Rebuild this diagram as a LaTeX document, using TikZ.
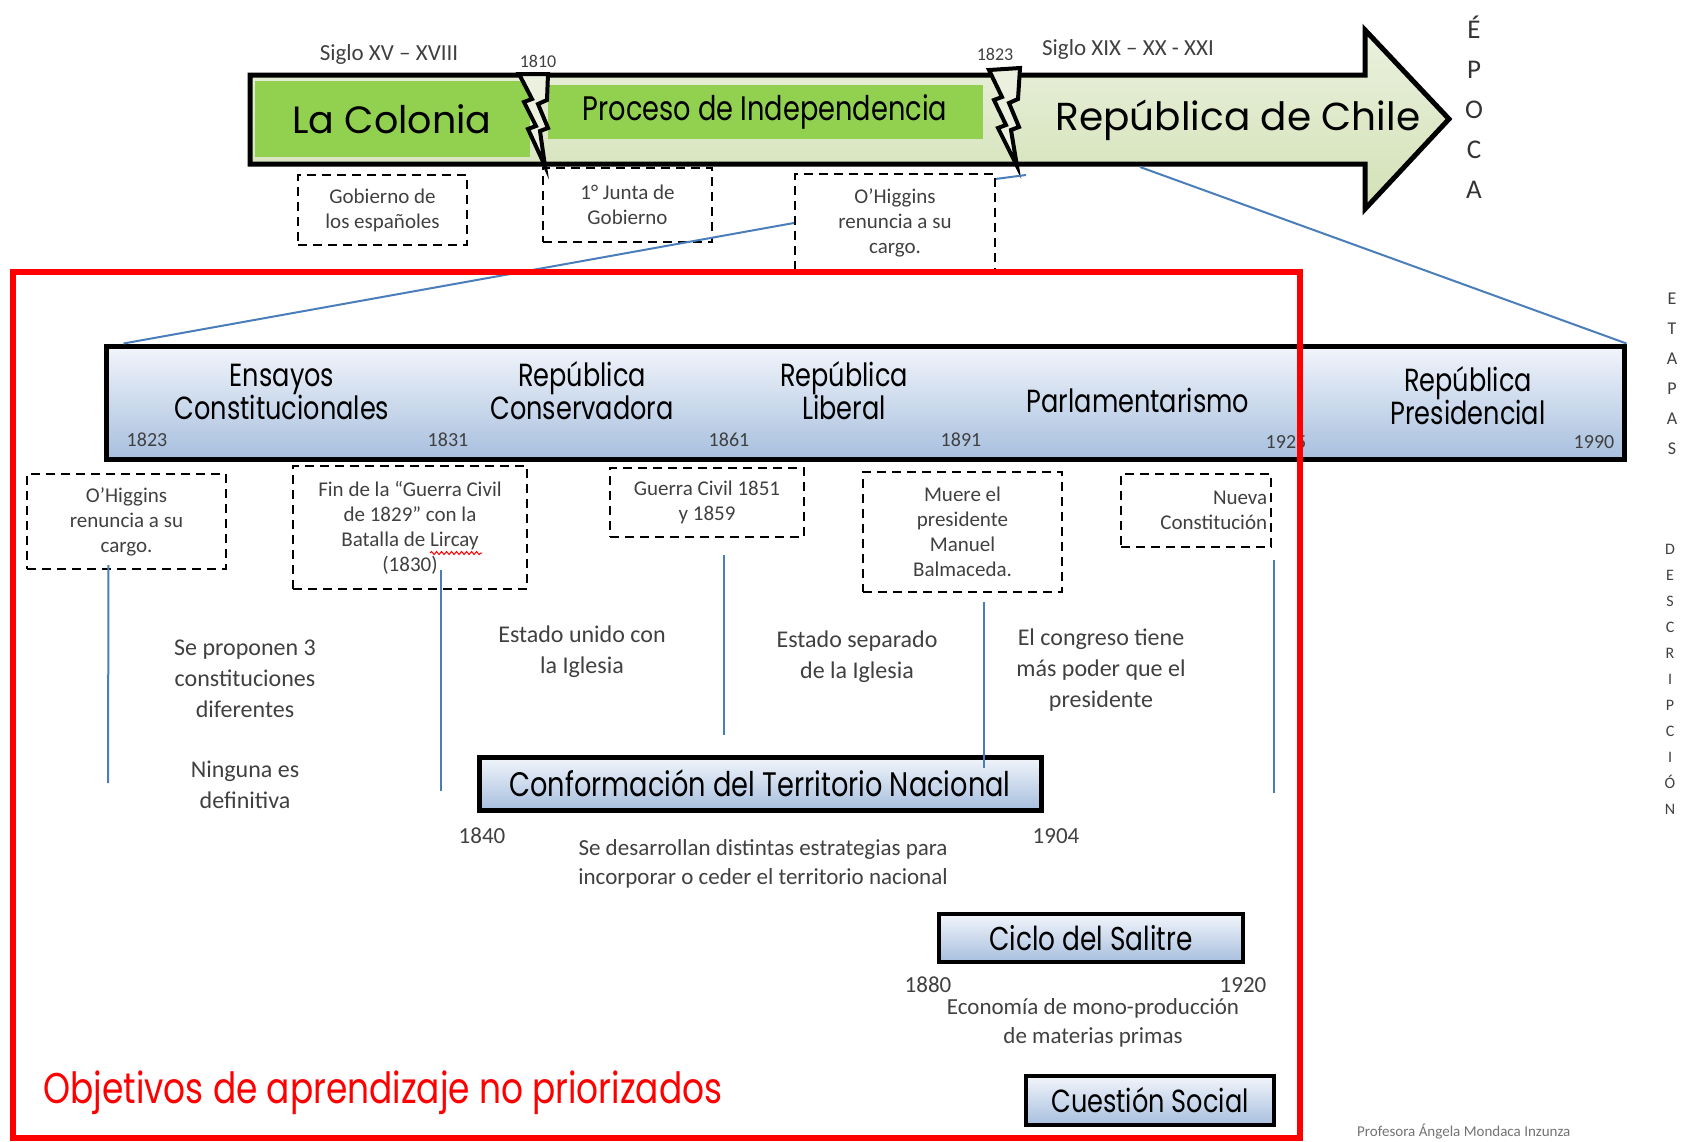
\documentclass[tikz,border=0pt]{standalone}
\usepackage{fontspec}
\setmainfont{Carlito}
\newfontfamily\comic{Poppins}
\newfontfamily\comicn[FakeStretch=0.8]{Poppins}
\usetikzlibrary{decorations.pathmorphing}

\definecolor{arrowtop}{HTML}{EBF1DE}
\definecolor{arrowbot}{HTML}{D3E1B6}
\definecolor{leafgreen}{HTML}{92D050}
\definecolor{bartop}{HTML}{F2F5FB}
\definecolor{barbot}{HTML}{A7BFDE}
\definecolor{linkblue}{HTML}{4A7EBB}
\definecolor{inkgray}{HTML}{404040}

\newcommand{\fsz}[2]{\fontsize{#1}{#2}\selectfont}

\tikzset{
  dbox/.style={draw, dash pattern=on 9pt off 6pt, line width=2.2pt, align=center,
    inner sep=0pt, text=inkgray, font=\fsz{21}{25}},
  stage/.style={draw, line width=5pt, top color=bartop, bottom color=barbot},
  link/.style={draw=linkblue, line width=2pt},
  bolt/.style={draw, line width=4pt, fill=arrowtop, line join=miter},
  desc/.style={align=center, text=inkgray, font=\fsz{24}{31}},
  yr/.style={text=inkgray, font=\fsz{20}{24}},
}

\begin{document}
\begin{tikzpicture}[x=1pt, y=-1pt]
\useasboundingbox (0,0) rectangle (1681,1141);

% epoch arrow
\draw[line width=5pt, line join=miter, top color=arrowtop, bottom color=arrowbot]
  (250,75) -- (1365,75) -- (1365,30) -- (1449,119) -- (1365,209) -- (1365,164) -- (250,164) -- cycle;
\node[fill=leafgreen, minimum width=275, minimum height=76, font=\comic\fsz{38}{40}] (colonia) at (392,119) {La Colonia};
\node[fill=leafgreen, minimum width=435, minimum height=54, font=\comicn\fsz{34}{36}] (proceso) at (765,112) {Proceso de Independencia};
\node[font=\comic\fsz{39}{40}] (chile) at (1238,120) {República de Chile};
\draw[bolt] (519,74) -- (532,99) -- (524,102) -- (536,126) -- (528,129) -- (545,166) -- (540,131)
  -- (548,128) -- (538,104) -- (547,100) -- (548,74) -- cycle;
\draw[bolt] (989,70) -- (1002,97) -- (994,100) -- (1006,125) -- (998,128) -- (1017,166) -- (1011,130)
  -- (1019,127) -- (1009,103) -- (1018,99) -- (1020,68) -- cycle;

\node[yr, font=\fsz{23}{25}] (sigloA) at (389,54) {Siglo XV – XVIII};
\node[yr, font=\fsz{18}{20}] (y1810) at (538,61) {1810};
\node[yr, font=\fsz{18}{20}] (y1823) at (995,54) {1823};
\node[yr, font=\fsz{23}{25}] (sigloB) at (1128,49) {Siglo XIX – XX - XXI};
\node[align=center, text=black!80, font=\fsz{27}{40}] (epoca) at (1474,107) {É\\P\\O\\C\\A};

% events under the arrow
\node[dbox, minimum width=169, minimum height=70] (gobierno) at (382.5,210) {Gobierno de\\los españoles};
\node[dbox, minimum width=169, minimum height=74] (junta) at (627.5,205) {1° Junta de\\Gobierno};
\node[dbox, minimum width=200, minimum height=98] (ohiggins) at (895,223) {O’Higgins\\renuncia a su\\cargo.};
\draw (545,166) -- (junta.north west);

% stages bar
\node[stage, minimum width=1518, minimum height=113] (etapas) at (865,402.5) {};
\node[align=center, font=\comicn\fsz{32}{33}] (ensayos) at (282,392) {Ensayos\\Constitucionales};
\node[align=center, font=\comicn\fsz{32}{33}] (conservadora) at (582,391) {República\\Conservadora};
\node[align=center, font=\comicn\fsz{32}{33}] (liberal) at (844,391) {República\\Liberal};
\node[font=\comicn\fsz{32}{33}] (parlamento) at (1138,400) {Parlamentarismo};
\node[align=center, font=\comicn\fsz{32}{33}] (presidencial) at (1468,396) {República\\Presidencial};
\node[yr] (e1823) at (147,440) {1823};
\node[yr] (e1831) at (448,440) {1831};
\node[yr] (e1861) at (729,440) {1861};
\node[yr] (e1891) at (961,440) {1891};
\node[yr] (e1925) at (1286,442) {1925};
\node[yr] (e1990) at (1594,442) {1990};
\node[align=center, text=black!75, font=\fsz{18}{30}] (etapaslbl) at (1672,374) {E\\T\\A\\P\\A\\S};
\node[align=center, text=black!75, font=\fsz{16}{26}] (desclbl) at (1670,679) {D\\E\\S\\C\\R\\I\\P\\C\\I\\Ó\\N};

% events of each stage
\node[dbox, minimum width=199, minimum height=95] (renuncia) at (126.5,521.5) {O’Higgins\\renuncia a su\\cargo.};
\node[dbox, minimum width=234, minimum height=123] (lircay) at (410,527.5) {Fin de la “Guerra Civil\\de 1829” con la\\Batalla de Lircay\\(1830)};
\draw[red, line width=1pt, decorate, decoration={snake, amplitude=1.5pt, segment length=5pt}] (430,553) -- (482,553);
\node[dbox, minimum width=194, minimum height=69] (guerra) at (707,502.5) {Guerra Civil 1851\\y 1859};
\node[dbox, minimum width=199, minimum height=120] (balmaceda) at (962.5,532) {Muere el\\presidente\\Manuel\\Balmaceda.};
\node[dbox, minimum width=150, minimum height=73, align=right] (nueva) at (1196,510.5) {\hspace*{4.2em}Nueva\\Constitución};

\node[desc] (proponen) at (245,679) {Se proponen 3\\constituciones\\diferentes};
\node[desc] (ninguna) at (245,785) {Ninguna es\\definitiva};
\node[desc] (unido) at (582,652) {Estado unido con\\la Iglesia};
\node[desc] (separado) at (857,657) {Estado separado\\de la Iglesia};
\node[desc] (congreso) at (1101,670) {El congreso tiene\\más poder que el\\presidente};

% processes
\node[stage, minimum width=562, minimum height=53, font=\comicn\fsz{34}{36}] (territorio) at (760,783.5) {Conformación del Territorio Nacional};
\node[yr, font=\fsz{23}{25}] (t1840) at (482,836) {1840};
\node[yr, font=\fsz{23}{25}] (t1904) at (1056,836) {1904};
\node[desc, font=\fsz{23}{29}] (estrategias) at (763,864) {Se desarrollan distintas estrategias para\\incorporar o ceder el territorio nacional};
\node[stage, line width=4pt, minimum width=304, minimum height=48, font=\comicn\fsz{33}{35}] (salitre) at (1091,938) {Ciclo del Salitre};
\node[yr, font=\fsz{23}{25}] (s1880) at (928,985) {1880};
\node[yr, font=\fsz{23}{25}] (s1920) at (1243,985) {1920};
\node[desc, font=\fsz{23}{29}] (mono) at (1093,1023) {Economía de mono-producción\\de materias primas};
\node[stage, line width=4pt, minimum width=248, minimum height=49, font=\comicn\fsz{32}{34}] (cuestion) at (1150,1100.5) {Cuestión Social};

% blue links
\coordinate (foot1823) at (1026,175);
\coordinate (footchile) at (1140,167);
\coordinate (l1) at (108,783);
\coordinate (l2a) at (441,570);
\coordinate (l2) at (441,791);
\coordinate (l3a) at (724,555);
\coordinate (l3) at (724,735);
\coordinate (l4a) at (984,602);
\coordinate (l4) at (984,768);
\coordinate (l5a) at (1274,560);
\coordinate (l5) at (1274,793);
\draw[link] ([yshift=-6pt]ohiggins.north east) -- (foot1823);
\draw[link] (ohiggins.west) -- ([xshift=20pt]etapas.north west);
\draw[link] (footchile) -- (etapas.north east);
\draw[link] ([xshift=-18pt, yshift=5pt]renuncia.south) -- (l1);
\draw[link] (l2a) -- (l2);
\draw[link] (l3a) -- (l3);
\draw[link] (l4a) -- (l4);
\draw[link] (l5a) -- (l5);

% not prioritised
\draw[red, line width=6pt] (13,272) rectangle (1300,1138);
\node[anchor=west, text=red, font=\comicn\fsz{43}{44}] (objetivos) at (40,1093) {Objetivos de aprendizaje no priorizados};
\node[anchor=south west, inner sep=1pt, text=black!55, font=\fsz{15}{17}] (firma) at (1356,1140) {Profesora Ángela Mondaca Inzunza};
\end{tikzpicture}
\end{document}
